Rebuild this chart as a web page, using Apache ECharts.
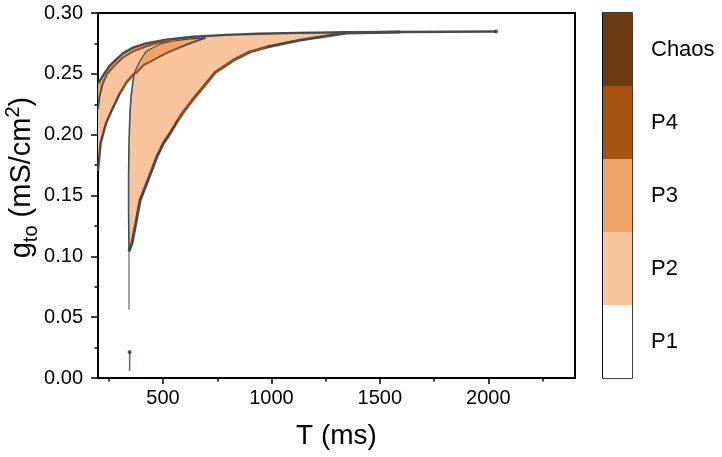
<!DOCTYPE html>
<html>
<head>
<meta charset="utf-8">
<script src="https://cdn.jsdelivr.net/npm/echarts@6.0.0/dist/echarts.min.js"></script>
<style>
html, body { margin: 0; padding: 0; background: #fff; }
#chart { width: 722px; height: 457px; }
</style>
</head>
<body>
<div id="chart"></div>
<script>
// axis ticks
const xMajor = [500, 1000, 1500, 2000]
const xMinor = [250, 750, 1250, 1750, 2250]
const phases = ['P1', 'P2', 'P3', 'P4', 'Chaos']
const phaseColors = ['#ffffff', '#f8c49e', '#f2a367', '#a9520f', '#6b3a10']

// region boundaries, [T (ms), gto (mS/cm2)]
const outerTop = [[200, 0.242], [228, 0.250], [256, 0.257], [286, 0.262], [316, 0.267], [362, 0.2715], [422, 0.275], [515, 0.278], [640, 0.2805], [792, 0.282], [940, 0.283], [1125, 0.2837], [1350, 0.2842], [1593, 0.2844]]
const topTail = [[1593, 0.2844], [2036, 0.2848]]
const innerTop = [[200, 0.221], [208, 0.232], [222, 0.242], [242, 0.250], [272, 0.256], [316, 0.2635], [362, 0.2685], [422, 0.2725], [476, 0.2755], [536, 0.2775]]
const bandARight = [[200, 0.170], [212, 0.193], [236, 0.209], [266, 0.221], [301, 0.234], [331, 0.243], [366, 0.250]]
const bandBLeft = [[343, 0.104], [341, 0.140], [341, 0.165], [343, 0.193], [348, 0.220], [353, 0.232], [360, 0.242], [366, 0.250]]
const bandBLower = [[343, 0.104], [357, 0.111], [371, 0.124], [394, 0.146], [431, 0.163], [472, 0.182], [502, 0.193], [532, 0.201], [569, 0.212], [595, 0.219], [647, 0.231], [680, 0.238], [740, 0.251], [823, 0.261], [901, 0.268], [979, 0.272], [1132, 0.2777], [1284, 0.282], [1348, 0.2836], [1593, 0.2844]]
const lensUpper = [[366, 0.250], [381, 0.256], [395, 0.261], [422, 0.2685], [487, 0.2745], [547, 0.277], [616, 0.2785], [696, 0.2795]]
const lensLower = [[366, 0.250], [376, 0.2505], [409, 0.257], [455, 0.2614], [515, 0.267], [580, 0.272], [646, 0.2765], [696, 0.2795]]
const stem = [[343, 0.104], [343, 0.056]]
const lowSpike = [[346, 0.006], [346, 0.0214]]
const endDots = [[346, 0.0214], [2036, 0.2848]]

const font = 'Liberation Sans, Arial, sans-serif'
const edgeColor = '#4a4a4a'
const between = (arr, a, b) => arr.filter(p => p[0] >= a && p[0] <= b)
const rev = arr => arr.slice().reverse()

const mainFill = outerTop.concat(rev(bandBLower), bandBLeft, rev(bandARight))
const leftStrip = between(outerTop, 200, 540).concat(rev(innerTop))
const lens = lensUpper.concat(rev(lensLower))

function area(pts, color) {
  return {
    type: 'custom',
    coordinateSystem: 'cartesian2d',
    xAxisIndex: 0,
    yAxisIndex: 0,
    silent: true,
    z: 2,
    data: pts,
    encode: { x: 0, y: 1 },
    renderItem: (params, api) => {
      if (params.dataIndex !== 0) return
      return {
        type: 'polygon',
        shape: { points: pts.map(p => api.coord(p)) },
        style: { fill: color }
      }
    }
  }
}

function edge(pts, color, width, z) {
  return {
    type: 'line',
    xAxisIndex: 0,
    yAxisIndex: 0,
    data: pts,
    symbol: 'none',
    silent: true,
    z: z || 3,
    lineStyle: { color: color, width: width }
  }
}

const myChart = echarts.init(document.getElementById('chart'))
myChart.setOption({
  animation: false,
  grid: [
    { left: 98, right: 147, top: 13, bottom: 79, outerBoundsMode: 'none', containLabel: false, show: true, borderColor: '#000', borderWidth: 2, backgroundColor: 'transparent' },
    { left: 603, right: 90, top: 13, bottom: 79, outerBoundsMode: 'none', containLabel: false, show: true, borderColor: '#000', borderWidth: 1.5, backgroundColor: 'transparent' }
  ],
  xAxis: [
    {
      gridIndex: 0,
      type: 'value',
      min: 200,
      max: 2400,
      position: 'bottom',
      name: 'T (ms)',
      nameLocation: 'middle',
      nameGap: 44,
      nameMoveOverlap: false,
      nameTextStyle: { fontFamily: font, fontSize: 28, color: '#000' },
      axisLine: { show: true, lineStyle: { color: '#000', width: 2 } },
      axisTick: { show: true, length: 6, customValues: xMajor, lineStyle: { color: '#000', width: 1.5 } },
      axisLabel: { customValues: xMajor, margin: 10, fontFamily: font, fontSize: 20, color: '#000', formatter: v => String(v) },
      splitLine: { show: false }
    },
    {
      gridIndex: 0,
      type: 'value',
      min: 200,
      max: 2400,
      position: 'bottom',
      axisLine: { show: false },
      axisTick: { show: true, length: 3.5, customValues: xMinor, lineStyle: { color: '#000', width: 1.5 } },
      axisLabel: { show: false },
      splitLine: { show: false }
    },
    {
      gridIndex: 1,
      type: 'value',
      min: 0,
      max: 1,
      show: false
    }
  ],
  yAxis: [
    {
      gridIndex: 0,
      type: 'value',
      min: 0,
      max: 0.3,
      interval: 0.05,
      name: '{n|g}{sub|to}{n| (mS/cm}{sup|2}{n|)}',
      nameLocation: 'middle',
      nameGap: 57,
      nameMoveOverlap: false,
      nameTextStyle: {
        padding: [0, 0, 0, 36],
        rich: {
          n: { fontFamily: font, fontSize: 29, color: '#000', lineHeight: 38, verticalAlign: 'middle' },
          sub: { fontFamily: font, fontSize: 20, color: '#000', lineHeight: 38, verticalAlign: 'bottom' },
          sup: { fontFamily: font, fontSize: 20, color: '#000', lineHeight: 38, verticalAlign: 'top' }
        }
      },
      axisLine: { show: true, lineStyle: { color: '#000', width: 2 } },
      axisTick: { show: true, length: 7, lineStyle: { color: '#000', width: 1.5 } },
      minorTick: { show: true, splitNumber: 2, length: 3.5, lineStyle: { color: '#000', width: 1.5 } },
      axisLabel: { margin: 15, fontFamily: font, fontSize: 20, color: '#000', formatter: v => v.toFixed(2) },
      splitLine: { show: false }
    },
    {
      gridIndex: 1,
      type: 'category',
      position: 'right',
      data: phases,
      axisLine: { show: true, lineStyle: { color: '#000', width: 1.5 } },
      axisTick: { show: true, alignWithLabel: true, length: 7, lineStyle: { color: '#000', width: 1.5 } },
      axisLabel: { margin: 19, fontFamily: font, fontSize: 22, color: '#000' },
      splitLine: { show: false }
    }
  ],
  series: [
    area(mainFill, phaseColors[1]),
    area(leftStrip, phaseColors[2]),
    area(lens, phaseColors[2]),
    edge(outerTop.concat(topTail), edgeColor, 2.4),
    edge(innerTop, edgeColor, 1.8),
    edge(bandARight, edgeColor, 2.4),
    edge(bandBLeft, edgeColor, 1.6),
    edge(stem, '#666', 1.2),
    edge(bandBLower, edgeColor, 3),
    edge(lensUpper, edgeColor, 1.2),
    edge(lensLower, edgeColor, 1.8),
    edge(between(innerTop, 222, 540), phaseColors[3], 1.6, 4),
    edge(between(bandARight, 286, 366).concat(between(lensLower, 367, 580)), phaseColors[3], 1.2, 4),
    edge(between(bandBLower, 560, 1000), phaseColors[3], 1.4, 4),
    edge(lowSpike, '#8a5a40', 1.5, 4),
    {
      type: 'scatter',
      xAxisIndex: 0,
      yAxisIndex: 0,
      data: endDots,
      symbolSize: 4,
      silent: true,
      z: 5,
      itemStyle: { color: '#333' }
    },
    {
      type: 'bar',
      xAxisIndex: 2,
      yAxisIndex: 1,
      barWidth: '100%',
      silent: true,
      data: phases.map((p, i) => ({ value: 1, itemStyle: { color: phaseColors[i] } }))
    }
  ]
})
</script>
</body>
</html>
